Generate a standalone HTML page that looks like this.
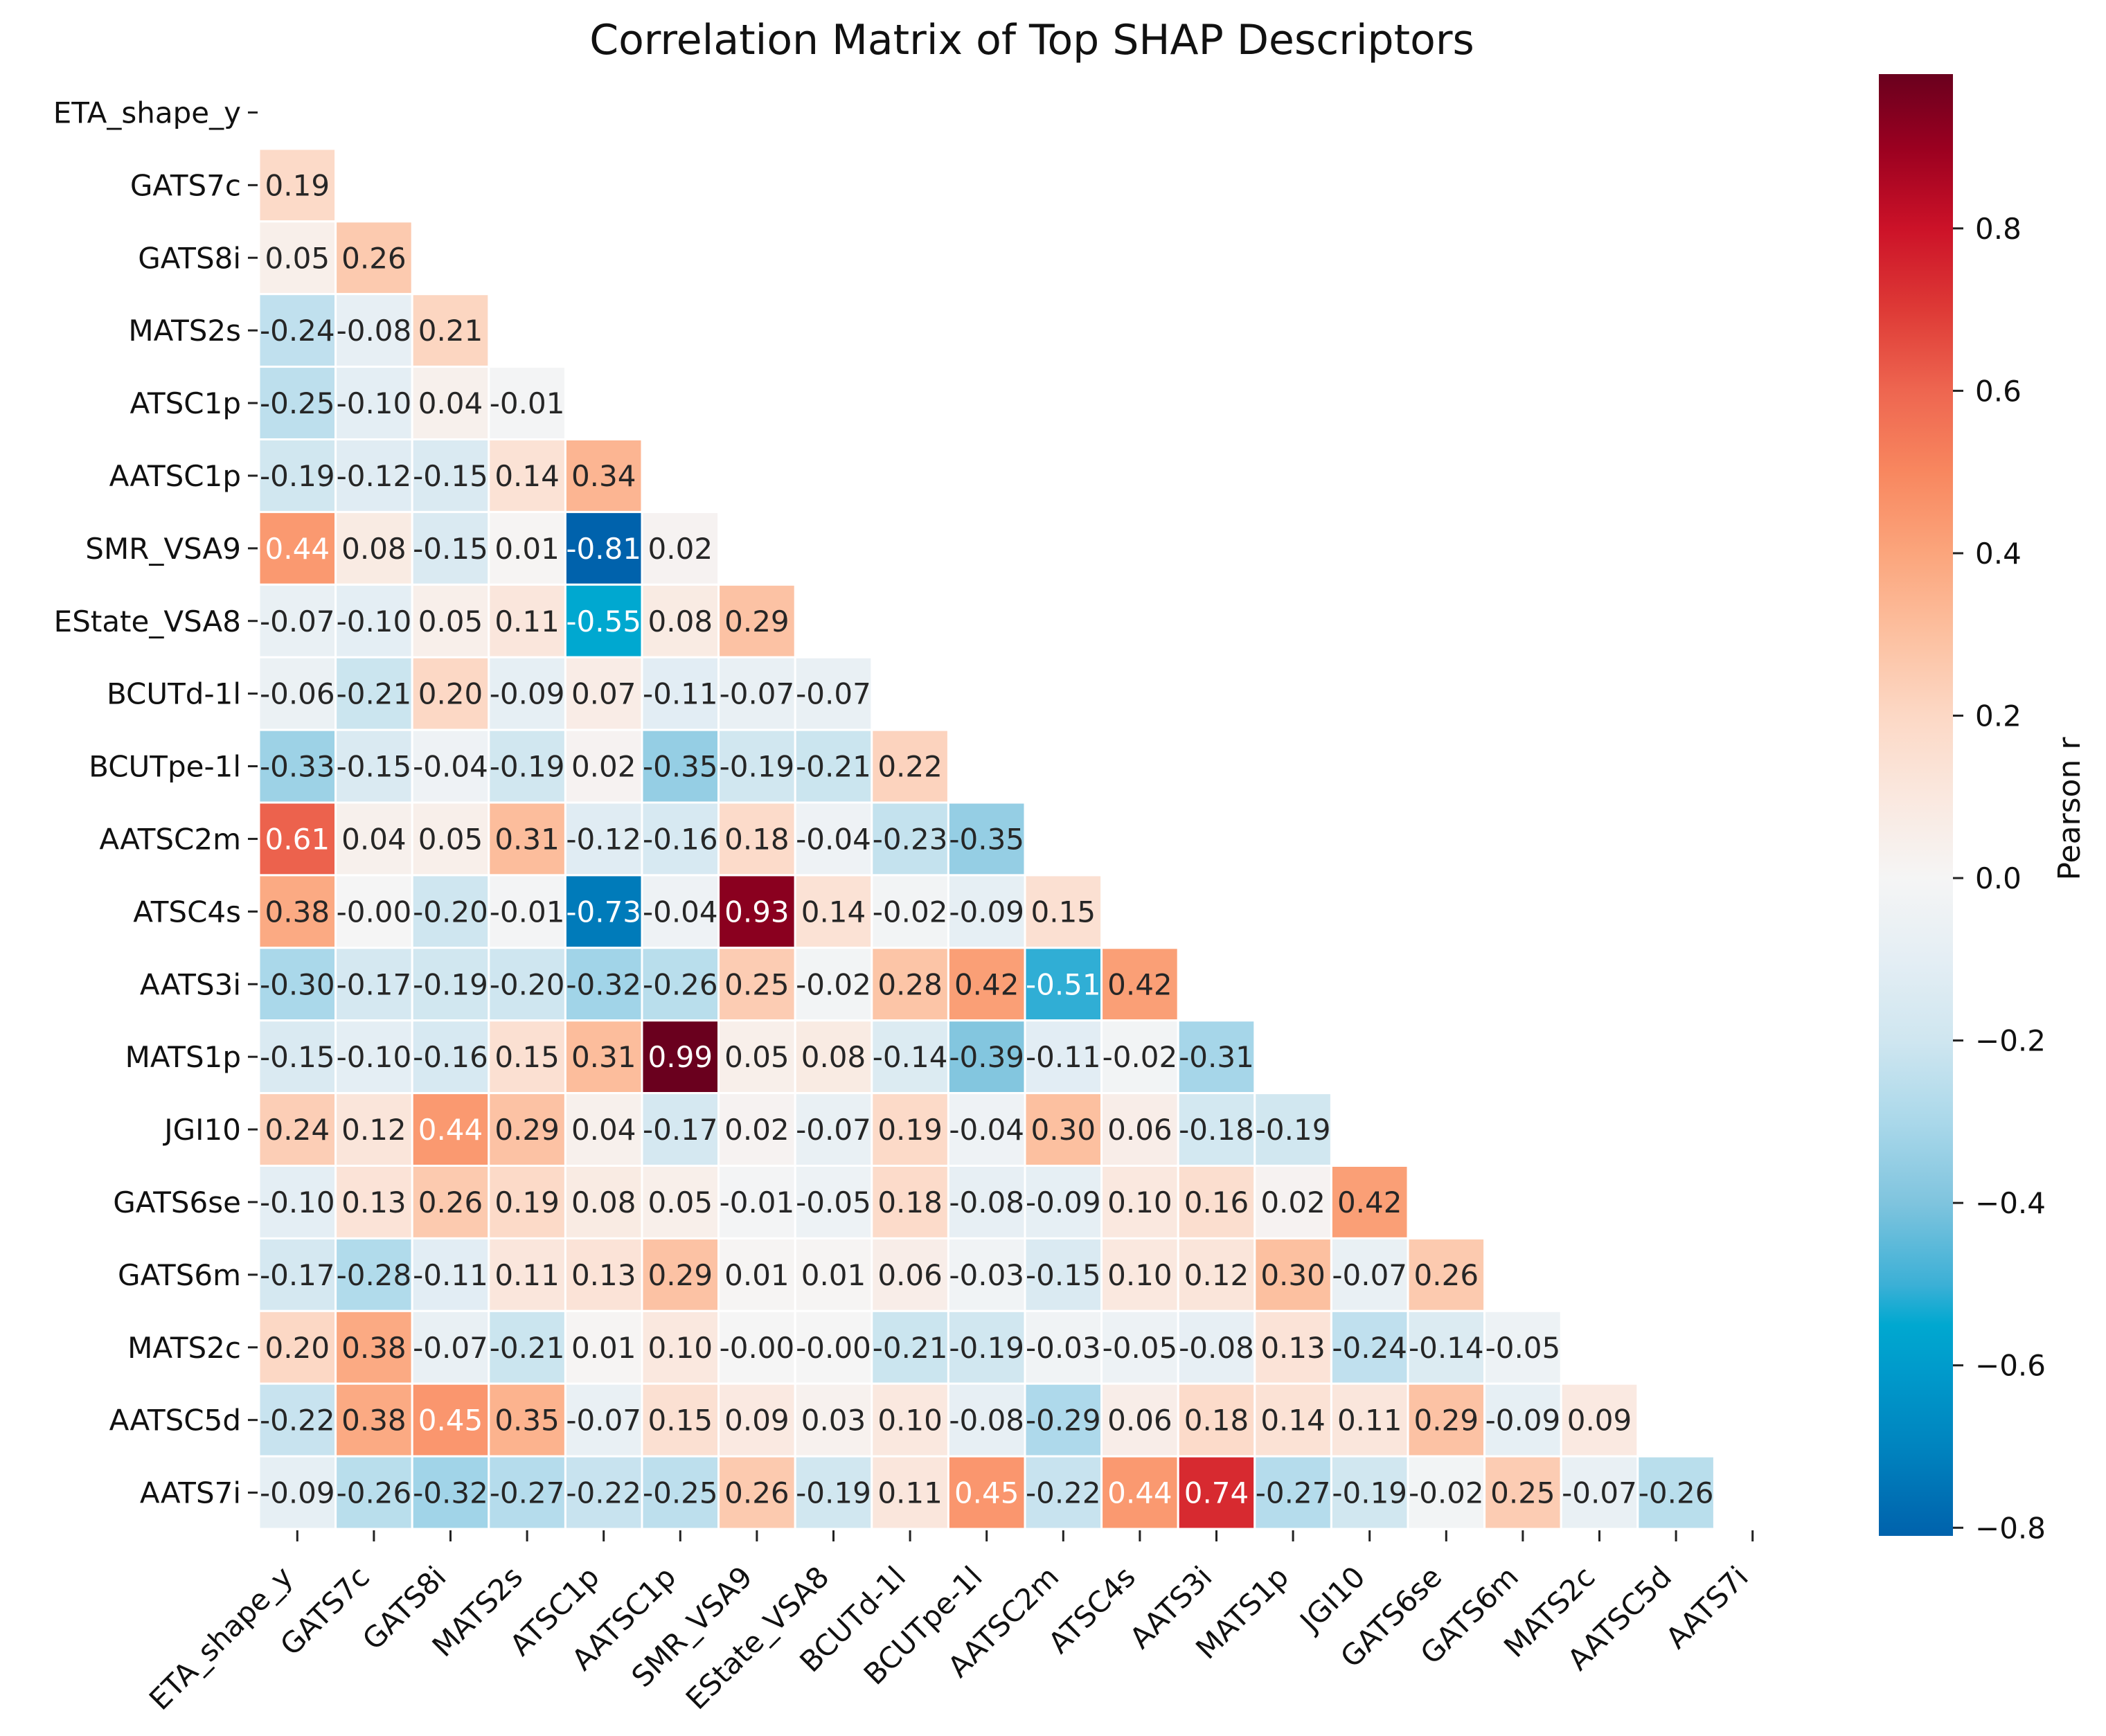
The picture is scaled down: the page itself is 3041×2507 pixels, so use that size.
<!DOCTYPE html>
<html><head><meta charset="utf-8">
<style>
html,body{margin:0;padding:0;background:#fff;}
svg{display:block;}
text{font-family:"DejaVu Sans","Liberation Sans",sans-serif;}
</style></head>
<body>
<svg id="chart" width="3041" height="2507" viewBox="0 0 3041 2507" xmlns="http://www.w3.org/2000/svg">
<rect width="3041" height="2507" fill="#fff"/>
<text x="1490" y="78" font-size="60" text-anchor="middle" fill="#111">Correlation Matrix of Top SHAP Descriptors</text>
<g id="cells"></g>
<g id="ylabels"></g>
<g id="xlabels"></g>
<defs><linearGradient id="cbgrad" x1="0" y1="1" x2="0" y2="0"></linearGradient></defs>
<rect x="2713" y="107" width="107" height="2111" fill="url(#cbgrad)"/>
<g id="cbticks"></g>
<text transform="translate(3003,1168) rotate(-90)" font-size="44" text-anchor="middle" fill="#111">Pearson r</text>
</svg>
<script>
const labels = ["ETA_shape_y","GATS7c","GATS8i","MATS2s","ATSC1p","AATSC1p","SMR_VSA9","EState_VSA8","BCUTd-1l","BCUTpe-1l","AATSC2m","ATSC4s","AATS3i","MATS1p","JGI10","GATS6se","GATS6m","MATS2c","AATSC5d","AATS7i"];
const row1 = [0.19];
const row2 = [0.05,0.26];
const row3 = [-0.24,-0.08,0.21];
const row4 = [-0.25,-0.10,0.04,-0.01];
const row5 = [-0.19,-0.12,-0.15,0.14,0.34];
const row6 = [0.44,0.08,-0.15,0.01,-0.81,0.02];
const row7 = [-0.07,-0.10,0.05,0.11,-0.55,0.08,0.29];
const row8 = [-0.06,-0.21,0.20,-0.09,0.07,-0.11,-0.07,-0.07];
const row9 = [-0.33,-0.15,-0.04,-0.19,0.02,-0.35,-0.19,-0.21,0.22];
const row10 = [0.61,0.04,0.05,0.31,-0.12,-0.16,0.18,-0.04,-0.23,-0.35];
const row11 = [0.38,-0.00,-0.20,-0.01,-0.73,-0.04,0.93,0.14,-0.02,-0.09,0.15];
const row12 = [-0.30,-0.17,-0.19,-0.20,-0.32,-0.26,0.25,-0.02,0.28,0.42,-0.51,0.42];
const row13 = [-0.15,-0.10,-0.16,0.15,0.31,0.99,0.05,0.08,-0.14,-0.39,-0.11,-0.02,-0.31];
const row14 = [0.24,0.12,0.44,0.29,0.04,-0.17,0.02,-0.07,0.19,-0.04,0.30,0.06,-0.18,-0.19];
const row15 = [-0.10,0.13,0.26,0.19,0.08,0.05,-0.01,-0.05,0.18,-0.08,-0.09,0.10,0.16,0.02,0.42];
const row16 = [-0.17,-0.28,-0.11,0.11,0.13,0.29,0.01,0.01,0.06,-0.03,-0.15,0.10,0.12,0.30,-0.07,0.26];
const row17 = [0.20,0.38,-0.07,-0.21,0.01,0.10,-0.00,-0.00,-0.21,-0.19,-0.03,-0.05,-0.08,0.13,-0.24,-0.14,-0.05];
const row18 = [-0.22,0.38,0.45,0.35,-0.07,0.15,0.09,0.03,0.10,-0.08,-0.29,0.06,0.18,0.14,0.11,0.29,-0.09,0.09];
const row19 = [-0.09,-0.26,-0.32,-0.27,-0.22,-0.25,0.26,-0.19,0.11,0.45,-0.22,0.44,0.74,-0.27,-0.19,-0.02,0.25,-0.07,-0.26];
const rows = [[],row1,row2,row3,row4,row5,row6,row7,row8,row9,row10,row11,row12,row13,row14,row15,row16,row17,row18,row19];
const cbTicks = [0.8,0.6,0.4,0.2,0.0,-0.2,-0.4,-0.6,-0.8];
const vmin = -0.81, vmax = 0.99;

const NS="http://www.w3.org/2000/svg";
const L=374, T=110, CW=110.6, RH=104.9;
const xAt = j => L + j*CW;
const yAt = i => T + i*RH;
const cbTop=107, cbBot=2218;
const cbY = v => cbBot - (v - vmin)/(vmax - vmin)*(cbBot - cbTop);

const stops=[[-0.81,[0,98,172]],[-0.7,[0,132,191]],[-0.6,[0,156,204]],[-0.55,[0,168,208]],[-0.5,[60,176,214]],[-0.4,[127,196,222]],[-0.3,[170,216,234]],[-0.2,[207,230,240]],[-0.1,[228,238,244]],[0,[245,245,245]],[0.1,[250,232,223]],[0.2,[252,216,197]],[0.3,[252,192,160]],[0.4,[251,165,124]],[0.5,[248,135,95]],[0.6,[238,102,80]],[0.7,[222,58,54]],[0.8,[204,18,40]],[0.9,[154,0,32]],[0.99,[106,0,30]]];
function color(v){
  if(v<=stops[0][0]) return stops[0][1];
  for(let k=1;k<stops.length;k++){
    if(v<=stops[k][0]){
      const a=stops[k-1],b=stops[k],t=(v-a[0])/(b[0]-a[0]);
      return a[1].map((c,i)=>Math.round(c+(b[1][i]-c)*t));
    }
  }
  return stops[stops.length-1][1];
}
const rgb=c=>`rgb(${c[0]},${c[1]},${c[2]})`;
function lum(c){const f=x=>{x/=255;return x<=0.03928?x/12.92:Math.pow((x+0.055)/1.055,2.4);};return 0.2126*f(c[0])+0.7152*f(c[1])+0.0722*f(c[2]);}

const gc=document.getElementById('cells');
rows.forEach((r,i)=>{
  r.forEach((v,j)=>{
    const c=color(v);
    const rc=document.createElementNS(NS,'rect');
    
    
    rc.setAttribute('x',xAt(j));rc.setAttribute('y',yAt(i));
    rc.setAttribute('width',CW);rc.setAttribute('height',RH);
    rc.setAttribute('fill',rgb(c));rc.setAttribute('stroke','#fff');rc.setAttribute('stroke-width','3');
    gc.appendChild(rc);
    const t=document.createElementNS(NS,'text');
    
    
    t.setAttribute('x',xAt(j)+CW/2);t.setAttribute('y',yAt(i)+RH/2+15);
    t.setAttribute('text-anchor','middle');t.setAttribute('font-size','42');
    t.setAttribute('fill',lum(c)>0.445?'#262626':'#ffffff');
    let s=v.toFixed(2); if(s==='0.00'&&Object.is(v,-0)) s='-0.00';
    t.textContent=s;
    gc.appendChild(t);
  });
});

const gy=document.getElementById('ylabels');
labels.forEach((lab,i)=>{
  const y=yAt(i)+RH/2;
  const tk=document.createElementNS(NS,'line');
  
  
  tk.setAttribute('x1',L-16);tk.setAttribute('x2',L-2);tk.setAttribute('y1',y);tk.setAttribute('y2',y);
  tk.setAttribute('stroke','#222');tk.setAttribute('stroke-width','3');
  gy.appendChild(tk);
  const t=document.createElementNS(NS,'text');
  
  
  t.setAttribute('x',L-26);t.setAttribute('y',y+15);
  t.setAttribute('text-anchor','end');t.setAttribute('font-size','42');t.setAttribute('fill','#111');
  t.textContent=lab;
  gy.appendChild(t);
});
const gx=document.getElementById('xlabels');
const B=yAt(20);
labels.forEach((lab,j)=>{
  const x=xAt(j)+CW/2;
  const tk=document.createElementNS(NS,'line');
  
  
  tk.setAttribute('x1',x);tk.setAttribute('x2',x);tk.setAttribute('y1',B+2);tk.setAttribute('y2',B+18);
  tk.setAttribute('stroke','#222');tk.setAttribute('stroke-width','3');
  gx.appendChild(tk);
  const t=document.createElementNS(NS,'text');
  
  
  t.setAttribute('transform',`translate(${x-4},${B+72}) rotate(-45)`);
  t.setAttribute('text-anchor','end');t.setAttribute('font-size','42');t.setAttribute('fill','#111');
  t.textContent=lab;
  gx.appendChild(t);
});
const grad=document.getElementById('cbgrad');
stops.forEach(s=>{
  const st=document.createElementNS(NS,'stop');
  st.setAttribute('offset',((s[0]-vmin)/(vmax-vmin)).toFixed(4));
  st.setAttribute('stop-color',rgb(s[1]));
  grad.appendChild(st);
});
const gt=document.getElementById('cbticks');
cbTicks.forEach(v=>{
  const y=cbY(v);
  const tk=document.createElementNS(NS,'line');
  
  
  tk.setAttribute('x1',2820);tk.setAttribute('x2',2835);tk.setAttribute('y1',y);tk.setAttribute('y2',y);
  tk.setAttribute('stroke','#222');tk.setAttribute('stroke-width','3');
  gt.appendChild(tk);
  const t=document.createElementNS(NS,'text');
  
  
  t.setAttribute('x',2852);t.setAttribute('y',y+15);
  t.setAttribute('font-size','42');t.setAttribute('fill','#111');
  t.textContent=(v<0?'\u2212':'')+Math.abs(v).toFixed(1);
  gt.appendChild(t);
});
</script>
</body></html>
